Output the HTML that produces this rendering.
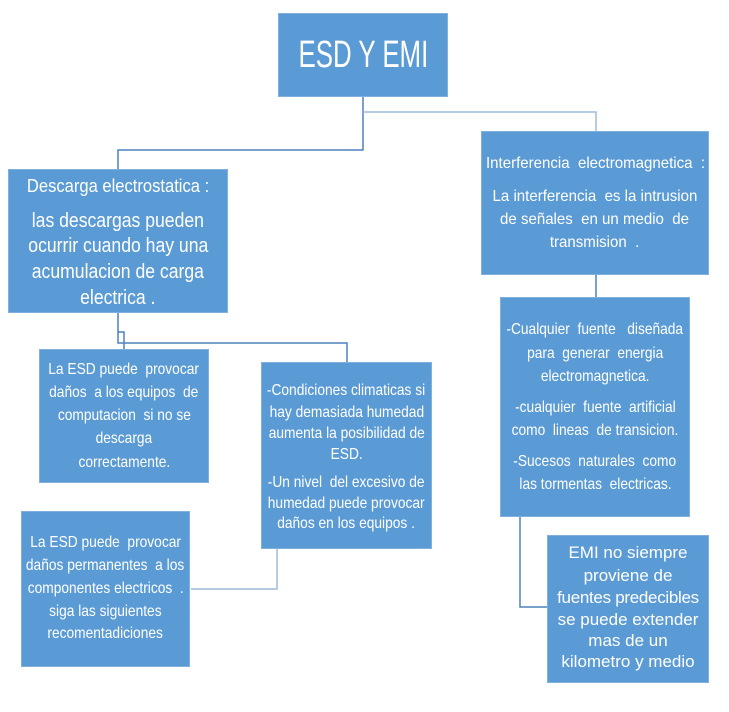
<!DOCTYPE html>
<html><head><meta charset="utf-8"><style>
body{margin:0;width:729px;height:712px;background:#fff;position:relative;overflow:hidden}
.b{position:absolute;background:#5b9bd5;border:1px solid #7fb0de;box-sizing:border-box}
.t{position:absolute;display:flex;justify-content:center;color:#fff;white-space:nowrap;font-family:"Liberation Sans",sans-serif;height:20px;line-height:20px}
.t span{display:inline-block;flex:none;transform:scaleX(.86);transform-origin:center}
.n span{transform:none}
.s88 span{transform:scaleX(.88)}
.s92 span{transform:scaleX(.92)}
.s94 span{transform:scaleX(.94)}
.s68 span{transform:scaleX(.68)}
</style></head><body>
<svg width="729" height="712" style="position:absolute;left:0;top:0">
<g fill="none" stroke="#4f81bd" stroke-width="1.5">
<polyline points="363,97 363,150 118,150 118,169"/>
<polyline points="363,112 596,112 596,131" stroke="#9dbbd9"/>
<polyline points="118,313 118,343 347,343 347,362" />
<polyline points="118,332 124,332 124,349"/>
<polyline points="277,549 277,589 191,589" stroke="#9dbbd9"/>
<polyline points="596,275 596,297"/>
<polyline points="520,517 520,607 547,607"/>
</g></svg>
<div class="b" style="left:278px;top:13px;width:170px;height:84px"></div>
<div class="t s68" style="left:278px;width:170px;top:37px;height:36px;line-height:36px;font-size:38px"><span>ESD Y EMI</span></div>

<div class="b" style="left:8px;top:169px;width:220px;height:144px"></div>
<div class="t s92" style="left:8px;width:220px;top:176px;font-size:18px"><span>Descarga electrostatica :</span></div>
<div class="t s88" style="left:8px;width:220px;top:211px;font-size:20px"><span>las descargas pueden</span></div>
<div class="t s88" style="left:8px;width:220px;top:236px;font-size:20px"><span>ocurrir cuando hay una</span></div>
<div class="t s88" style="left:8px;width:220px;top:262px;font-size:20px"><span>acumulacion de carga</span></div>
<div class="t s88" style="left:8px;width:220px;top:288px;font-size:20px"><span>electrica .</span></div>

<div class="b" style="left:481px;top:131px;width:228px;height:144px"></div>
<div class="t s94" style="left:481px;width:228px;top:154px;font-size:16px"><span>Interferencia &nbsp;electromagnetica &nbsp;:</span></div>
<div class="t s94" style="left:481px;width:228px;top:187px;font-size:16px"><span>La interferencia &nbsp;es la intrusion</span></div>
<div class="t s94" style="left:481px;width:228px;top:210px;font-size:16px"><span>de señales &nbsp;en un medio &nbsp;de</span></div>
<div class="t s94" style="left:481px;width:228px;top:233px;font-size:16px"><span>transmision &nbsp;.</span></div>

<div class="b" style="left:39px;top:349px;width:170px;height:134px"></div>
<div class="t" style="left:39px;width:170px;top:360px;font-size:16px"><span>La ESD puede &nbsp;provocar</span></div>
<div class="t" style="left:39px;width:170px;top:383px;font-size:16px"><span>daños &nbsp;a los equipos &nbsp;de</span></div>
<div class="t" style="left:39px;width:170px;top:406px;font-size:16px"><span>computacion &nbsp;si no se</span></div>
<div class="t" style="left:39px;width:170px;top:429px;font-size:16px"><span>descarga</span></div>
<div class="t" style="left:39px;width:170px;top:453px;font-size:16px"><span>correctamente.</span></div>

<div class="b" style="left:261px;top:362px;width:171px;height:187px"></div>
<div class="t" style="left:261px;width:171px;top:381px;font-size:16px"><span>-Condiciones climaticas si</span></div>
<div class="t" style="left:261px;width:171px;top:403px;font-size:16px"><span>hay demasiada humedad</span></div>
<div class="t" style="left:261px;width:171px;top:424px;font-size:16px"><span>aumenta la posibilidad de</span></div>
<div class="t" style="left:261px;width:171px;top:445px;font-size:16px"><span>ESD.</span></div>
<div class="t" style="left:261px;width:171px;top:473px;font-size:16px"><span>-Un nivel &nbsp;del excesivo de</span></div>
<div class="t" style="left:261px;width:171px;top:494px;font-size:16px"><span>humedad puede provocar</span></div>
<div class="t" style="left:261px;width:171px;top:514px;font-size:16px"><span>daños en los equipos .</span></div>

<div class="b" style="left:21px;top:511px;width:169px;height:156px"></div>
<div class="t" style="left:21px;width:169px;top:533px;font-size:16px"><span>La ESD puede &nbsp;provocar</span></div>
<div class="t" style="left:21px;width:169px;top:556px;font-size:16px"><span>daños permanentes &nbsp;a los</span></div>
<div class="t" style="left:21px;width:169px;top:579px;font-size:16px"><span>componentes electricos &nbsp;.</span></div>
<div class="t" style="left:21px;width:169px;top:602px;font-size:16px"><span>siga las siguientes</span></div>
<div class="t" style="left:21px;width:169px;top:624px;font-size:16px"><span>recomentadiciones</span></div>

<div class="b" style="left:500px;top:297px;width:190px;height:220px"></div>
<div class="t" style="left:500px;width:190px;top:320px;font-size:16px"><span>-Cualquier &nbsp;fuente &nbsp;&nbsp;diseñada</span></div>
<div class="t" style="left:500px;width:190px;top:344px;font-size:16px"><span>para &nbsp;generar &nbsp;energia</span></div>
<div class="t" style="left:500px;width:190px;top:367px;font-size:16px"><span>electromagnetica.</span></div>
<div class="t" style="left:500px;width:190px;top:398px;font-size:16px"><span>-cualquier &nbsp;fuente &nbsp;artificial</span></div>
<div class="t" style="left:500px;width:190px;top:421px;font-size:16px"><span>como &nbsp;lineas &nbsp;de transicion.</span></div>
<div class="t" style="left:500px;width:190px;top:452px;font-size:16px"><span>-Sucesos &nbsp;naturales &nbsp;como</span></div>
<div class="t" style="left:500px;width:190px;top:475px;font-size:16px"><span>las tormentas &nbsp;electricas.</span></div>

<div class="b" style="left:547px;top:535px;width:162px;height:148px"></div>
<div class="t n" style="left:547px;width:162px;top:543px;font-size:17px"><span>EMI no siempre</span></div>
<div class="t n" style="left:547px;width:162px;top:566px;font-size:17px"><span>proviene de</span></div>
<div class="t n" style="left:547px;width:162px;top:588px;font-size:17px;letter-spacing:-0.3px"><span>fuentes predecibles</span></div>
<div class="t n" style="left:547px;width:162px;top:610px;font-size:17px"><span>se puede extender</span></div>
<div class="t n" style="left:547px;width:162px;top:631px;font-size:17px"><span>mas de un</span></div>
<div class="t n" style="left:547px;width:162px;top:652px;font-size:17px"><span>kilometro y medio</span></div>
</body></html>
